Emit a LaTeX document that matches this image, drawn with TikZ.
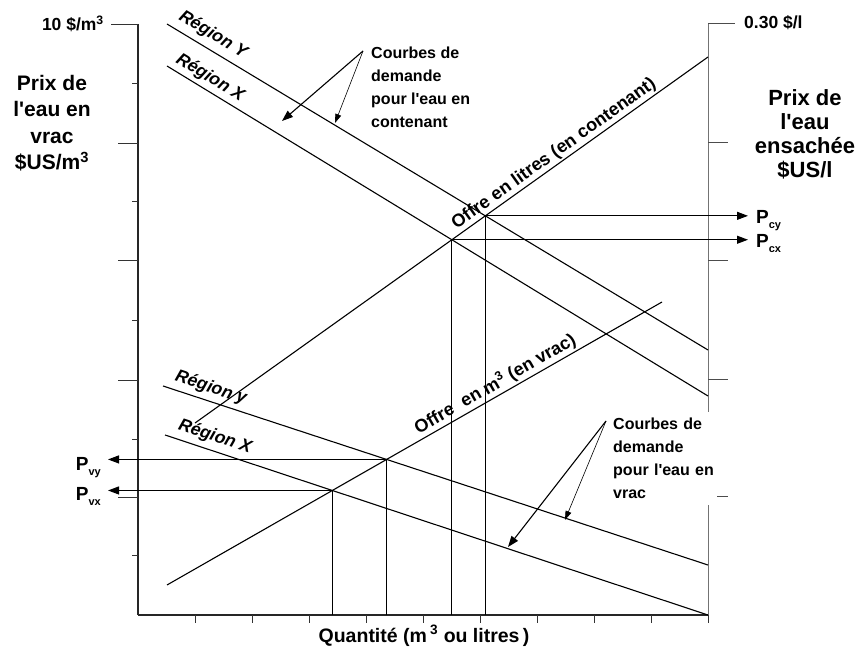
\documentclass[tikz,border=0pt]{standalone}
\usepackage{fontspec}
\setmainfont{Liberation Sans}
\usetikzlibrary{arrows.meta,intersections}
\newcommand{\myap}{\textquotesingle}
\newcommand{\mypsub}[1]{P\raisebox{-5pt}{\fontsize{11pt}{11pt}\selectfont #1}}
\begin{document}
\begin{tikzpicture}[x=1pt,y=-1pt,
  ln/.style={line width=1.1pt,black},
  thinln/.style={line width=0.6pt,black},
  axl/.style={line width=1.1pt,black!85},
  axr/.style={line width=1pt,black!55},
  tk/.style={line width=0.9pt,black!80},
  tkr/.style={line width=0.9pt,black!70},
  arr/.style={-{Triangle[length=11pt,width=8pt]}},
  sarr/.style={-{Triangle[length=9pt,width=6pt]}},
  fsmall/.style={font=\fontsize{17.5pt}{20pt}\selectfont\bfseries,inner sep=0pt},
  ftitleL/.style={font=\fontsize{21pt}{26.5pt}\selectfont\bfseries,inner sep=0pt,align=center},
  ftitleR/.style={font=\fontsize{22pt}{24pt}\selectfont\bfseries,inner sep=0pt,align=center},
  fnote/.style={font=\fontsize{16pt}{23pt}\selectfont\bfseries,inner sep=0pt,align=left},
  freg/.style={font=\fontsize{17.5pt}{20pt}\selectfont\bfseries\itshape,inner sep=0pt},
  foffre/.style={font=\fontsize{18pt}{20pt}\selectfont\bfseries,inner sep=0pt},
  fquant/.style={font=\fontsize{19.5pt}{22pt}\selectfont\bfseries,inner sep=0pt},
  fp/.style={font=\fontsize{19pt}{20pt}\selectfont\bfseries,inner sep=0pt},
]
\useasboundingbox (0,0) rectangle (865,652);

% axes
\coordinate (axo) at (138,615);
\coordinate (axlt) at (138,24);
\coordinate (axr) at (708,615);
\coordinate (axrt) at (708,23);
\draw[axl] (axlt) -- (axo);
\draw[axl] (axo) -- (axr);
\draw[axr] (axrt) -- (axr);
\draw[tkr] (axrt) -- (735,23);

% left ticks
\draw[tk] (111,24) -- (138,24);
\foreach \yy in {83,201,320,439,555} \draw[tk] (132,\yy) -- (138,\yy);
\foreach \yy in {143,260,380,497} \draw[tk] (118,\yy) -- (138,\yy);
% right ticks
\foreach \yy in {142,260,379,496} \draw[tkr] (708,\yy) -- (728,\yy);
% bottom ticks
\foreach \k in {1,...,10} \draw[tk] (138+57*\k,615) -- (138+57*\k,623);

% curves
\coordinate (cy1) at (167,24);  \coordinate (cy2) at (708,350);
\coordinate (cx1) at (167,66);  \coordinate (cx2) at (708,396);
\coordinate (cs1) at (195,423); \coordinate (cs2) at (708,57);
\coordinate (bs1) at (167,585); \coordinate (bs2) at (662,302);
\coordinate (dy1) at (163,386); \coordinate (dy2) at (708,565);
\coordinate (dx1) at (165,435); \coordinate (dx2) at (708,615);
\draw[ln,name path=pcdy] (cy1) -- (cy2);
\draw[ln,name path=pcdx] (cx1) -- (cx2);
\draw[ln,name path=pcsup] (cs1) -- (cs2);
\draw[ln,name path=pbsup] (bs1) -- (bs2);
\draw[ln,name path=pbdy] (dy1) -- (dy2);
\draw[ln,name path=pbdx] (dx1) -- (dx2);
\path[name intersections={of=pcdy and pcsup, by=icy}];
\path[name intersections={of=pcdx and pcsup, by=icx}];
\path[name intersections={of=pbdy and pbsup, by=ivy}];
\path[name intersections={of=pbdx and pbsup, by=ivx}];

% drop lines
\draw[ln] (icy) -- (icy |- axo);
\draw[ln] (icx) -- (icx |- axo);
\draw[ln] (ivy) -- (ivy |- axo);
\draw[ln] (ivx) -- (ivx |- axo);

% price labels
\node[fp,anchor=base west] (pcy) at (756,224) {\mypsub{cy}};
\node[fp,anchor=base west] (pcx) at (756,248) {\mypsub{cx}};
\node[fp,anchor=base east] (pvy) at (101,470) {\mypsub{vy}};
\node[fp,anchor=base east] (pvx) at (101,500) {\mypsub{vx}};
\coordinate (rtip) at (748,0);
\coordinate (ltip) at (108,0);
\draw[ln,arr] (icy) -- (icy -| rtip);
\draw[ln,arr] (icx) -- (icx -| rtip);
\draw[ln,arr] (ivy) -- (ivy -| ltip);
\draw[ln,arr] (ivx) -- (ivx -| ltip);

% axis texts
\node[fsmall,anchor=east] (t10) at (104,24) {10 \$/m\textsuperscript{3}};
\node[fsmall,anchor=west] (t030) at (744,23) {0.30 \$/l};
\node[ftitleL,anchor=north] (tleft) at (52,75) {Prix de\\l\myap eau en\\vrac\\\$US/m\textsuperscript{3}};
\node[ftitleR,anchor=north] (tright) at (805,89) {Prix de\\l\myap eau\\ensachée\\\$US/l};
\node[fquant] (tq) at (424,636) {Quantité (m\,\textsuperscript{3} ou litres\,)};

% curve labels
\node[freg,rotate=-31.07] (rcy) at (213,35) {Région Y};
\node[freg,rotate=-31.3] (rcx) at (210,78) {Région X};
\node[freg,rotate=-18.2] (rby) at (211,388) {Région y};
\node[freg,rotate=-18.3] (rbx) at (215,437) {Région X};
\node[foffre,rotate=35.5] (ocs) at (554,154) {Offre en litres (en contenant)};
\node[foffre,rotate=29.8] (obs) at (495,384) {Offre\ \ en m\textsuperscript{3} (en vrac)};

% notes and pointers
\node[fnote,anchor=north west] (ncont) at (371,47) {Courbes de\\demande\\pour l\myap eau en\\contenant};
\coordinate (capex) at (363,51);
\coordinate (cptx) at (282,121);
\coordinate (cpty) at (335,123);
\draw[ln,arr] (capex) -- (cptx);
\draw[thinln,sarr] (capex) -- (cpty);

\node[fnote,anchor=north west,fill=white,inner xsep=3pt,inner ysep=6pt,text width=101pt] (nvrac) at (610,412) {Courbes de\\demande\\pour l\myap eau en\\vrac};
\coordinate (vapex) at (606,421);
\coordinate (vptx) at (508,547);
\coordinate (vpty) at (565,520);
\draw[ln,arr] (vapex) -- (vptx);
\draw[thinln,sarr] (vapex) -- (vpty);
\end{tikzpicture}
\end{document}
